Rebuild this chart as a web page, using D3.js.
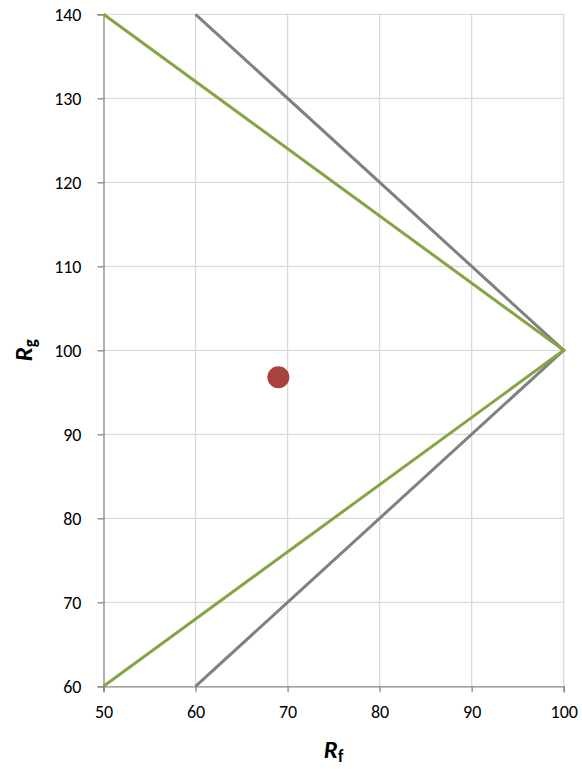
<!DOCTYPE html>
<html>
<head>
<meta charset="utf-8">
<script src="https://cdn.jsdelivr.net/npm/d3@7"></script>
<style>
  body { margin: 0; background: #fff; }
  text { font-family: Carlito, Lato, "Open Sans", sans-serif; }
</style>
</head>
<body>
<svg></svg>
<script>
let width = 582
let height = 769
let margin = { left: 103.5, right: 18.3, top: 14.3, bottom: 82.7 }

// data
let xTicks = [50, 60, 70, 80, 90, 100]
let yTicks = [60, 70, 80, 90, 100, 110, 120, 130, 140]
let greenLine = [[50, 140], [100, 100], [50, 60]]
let grayLine = [[60, 140], [100, 100], [60, 60]]
let point = [[69, 96.8]]

let svg = d3.select('svg').attr('width', width).attr('height', height)

let xScale = d3.scaleLinear().domain([50, 100]).range([margin.left, width - margin.right])
let yScale = d3.scaleLinear().domain([60, 140]).range([height - margin.bottom, margin.top])

// gridlines
svg.append('g')
    .selectAll('line.vgrid')
    .data(xTicks.slice(1))
    .enter()
    .append('line')
    .attr('x1', d => xScale(d)).attr('x2', d => xScale(d))
    .attr('y1', yScale(60)).attr('y2', yScale(140))
    .attr('stroke', '#d9d9d9').attr('stroke-width', 1.3)
svg.append('g')
    .selectAll('line.hgrid')
    .data(yTicks.slice(1))
    .enter()
    .append('line')
    .attr('x1', xScale(50)).attr('x2', xScale(100))
    .attr('y1', d => yScale(d)).attr('y2', d => yScale(d))
    .attr('stroke', '#d9d9d9').attr('stroke-width', 1.3)

// axes
let xAxis = d3.axisBottom(xScale).tickValues(xTicks).tickSize(6).tickPadding(13)
let gx = svg.append('g')
    .attr('transform', 'translate(0,' + yScale(60) + ')')
    .call(xAxis)
let yAxis = d3.axisLeft(yScale).tickValues(yTicks).tickSize(6).tickPadding(16)
let gy = svg.append('g')
    .attr('transform', 'translate(' + xScale(50) + ',0)')
    .call(yAxis)
;[gx, gy].forEach(g => {
    g.select('.domain').attr('stroke', '#868686').attr('stroke-width', 1.3)
    g.selectAll('.tick line').attr('stroke', '#868686').attr('stroke-width', 1.3)
    g.selectAll('.tick text').attr('fill', '#000').style('font-size', '18px')
        .style('font-family', 'Carlito, Lato, "Open Sans", sans-serif')
})
gx.selectAll('.tick text').attr('dy', '0.71em')

// lines
let line = d3.line().x(d => xScale(d[0])).y(d => yScale(d[1]))
svg.append('path').datum(grayLine).attr('d', line)
    .attr('fill', 'none').attr('stroke', '#808080').attr('stroke-width', 3)
svg.append('path').datum(greenLine).attr('d', line)
    .attr('fill', 'none').attr('stroke', '#84a543').attr('stroke-width', 3)

// point
svg.selectAll('circle')
    .data(point)
    .enter()
    .append('circle')
    .attr('cx', d => xScale(d[0]))
    .attr('cy', d => yScale(d[1]))
    .attr('r', 11)
    .attr('fill', '#a8423f')

// axis titles
let xt = svg.append('text')
    .attr('x', (xScale(50) + xScale(100)) / 2)
    .attr('y', 758)
    .attr('text-anchor', 'middle')
    .style('font-weight', 'bold')
xt.append('tspan').text('R').style('font-style', 'italic').style('font-size', '25px')
xt.append('tspan').text('f').style('font-size', '17px').attr('dy', 4)

let yt = svg.append('text')
    .attr('transform', 'translate(32,' + yScale(100) + ') rotate(-90)')
    .attr('text-anchor', 'middle')
    .style('font-weight', 'bold')
yt.append('tspan').text('R').style('font-style', 'italic').style('font-size', '25px')
yt.append('tspan').text('g').style('font-size', '17px').attr('dy', 4)
</script>
</body>
</html>
